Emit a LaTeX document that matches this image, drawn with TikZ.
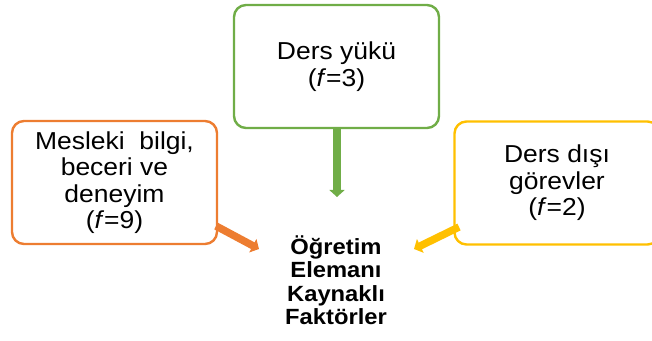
\documentclass[tikz,border=0pt]{standalone}
\usepackage{fontspec}
\setmainfont{Liberation Sans}[FakeStretch=1.08]
\usetikzlibrary{arrows.meta}
\definecolor{boxorange}{HTML}{ED7D31}
\definecolor{boxgreen}{HTML}{70AD47}
\definecolor{boxyellow}{HTML}{FFC000}
\begin{document}
\begin{tikzpicture}[x=1pt,y=1pt,
  factorbox/.style={draw=#1, line width=2.4pt, rounded corners=12pt, fill=white,
    minimum width=205pt, minimum height=123pt, align=center, inner sep=0pt,
    font={\fontsize{24.5}{26.5}\selectfont}},
  blockarrow/.style={draw=#1, line width=7.5pt,
    -{Triangle[length=7pt,width=15pt]}},
  core/.style={align=center, inner sep=0pt,
    font={\bfseries\fontsize{22}{23.5}\selectfont}}
]
\useasboundingbox (0,0) rectangle (652,340);

% the three factor boxes
\node[factorbox=boxgreen]  (load)  at (336.5,273.5) {Ders yükü\\(\textit{f}=3)};
\node[factorbox=boxorange] (skill) at (114.5,157.5) {Mesleki\ \ bilgi,\\beceri ve\\deneyim\\(\textit{f}=9)};
\node[factorbox=boxyellow] (duty)  at (557,157)   {Ders dışı\\görevler\\(\textit{f}=2)};

% central label
\node[core] (core) at (336,60) {Öğretim\\Elemanı\\Kaynaklı\\Faktörler};

% arrow tips just short of the central label
\coordinate (tipload)  at (337,143);
\coordinate (tipskill) at (259,91);
\coordinate (tipduty)  at (414,91);
\coordinate (srcskill) at (216,114);
\coordinate (srcduty)  at (459,113);

\draw[blockarrow=boxgreen]  (load.south -| tipload) -- (tipload);
\draw[blockarrow=boxorange] (srcskill) -- (tipskill);
\draw[blockarrow=boxyellow] (srcduty) -- (tipduty);
\end{tikzpicture}
\end{document}
